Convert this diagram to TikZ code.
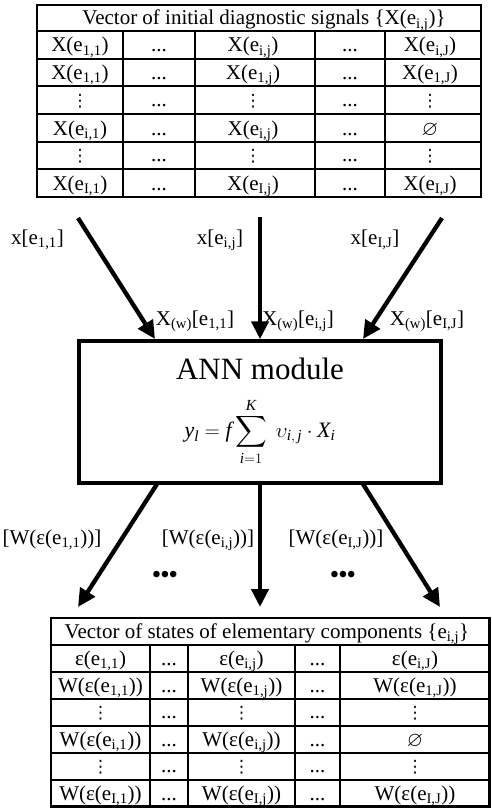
\documentclass[tikz,border=0pt]{standalone}
\usepackage{amsmath,amssymb}
\usepackage{fontspec}
\setmainfont{Liberation Serif}
\newfontfamily\djv{DejaVu Sans}
\usetikzlibrary{arrows.meta}
\newcommand{\sbs}[1]{\textsubscript{#1}}
\newcommand{\vd}{{\djv\fontsize{17}{17}\selectfont ⋮}}
\newcommand{\es}{$\varnothing$}
% top table row: name, baseline y, col1, col3, col5
\newcommand{\trow}[5]{%
  \node[cell] (#1a) at (80,#2) {#3};
  \node[cell] (#1b) at (159,#2) {...};
  \node[cell] (#1c) at (253,#2) {#4};
  \node[cell] (#1d) at (350,#2) {...};
  \node[cell] (#1e) at (430,#2) {#5};}
\newcommand{\brow}[5]{%
  \node[cell] (#1a) at (100.5,#2) {#3};
  \node[cell] (#1b) at (169,#2) {...};
  \node[cell] (#1c) at (241.5,#2) {#4};
  \node[cell] (#1d) at (317.5,#2) {...};
  \node[cell] (#1e) at (415,#2) {#5};}
\begin{document}
\begin{tikzpicture}[x=1pt,y=-1pt,
  cell/.style={font=\fontsize{21}{21}\selectfont, inner sep=0pt, anchor=base},
  lbl/.style={font=\fontsize{21}{21}\selectfont, inner sep=0pt, anchor=base},
  hl/.style={line width=1.8pt},
  vl/.style={line width=2.6pt},
  arr/.style={line width=4.3pt, -{Triangle[length=18pt,width=17pt]}},
  box/.style={draw, line width=3.5pt, inner sep=0pt, minimum width=362pt, minimum height=142pt},
  dots/.style={font=\fontsize{24}{24}\selectfont\bfseries, inner sep=0pt}]
\useasboundingbox (0,0) rectangle (491,808);
% ---------- top table ----------
\draw[vl] (37,5) rectangle (481,197);
\foreach \y in {31,58.7,86.3,114,141.7,169.3} \draw[hl] (37,\y) -- (481,\y);
\foreach \x in {123,195,315,385} \draw[vl] (\x,31) -- (\x,197);
\node[cell] (th) at (264,25) {Vector of initial diagnostic signals \{X(e\sbs{i,j})\}};
\trow{t1}{52}{X(e\sbs{1,1})}{X(e\sbs{i,j})}{X(e\sbs{i,J})}
\trow{t2}{79.5}{X(e\sbs{1,1})}{X(e\sbs{1,j})}{X(e\sbs{1,J})}
\trow{t3}{106}{\vd}{\vd}{\vd}
\trow{t4}{135}{X(e\sbs{i,1})}{X(e\sbs{i,j})}{\es}
\trow{t5}{161.5}{\vd}{\vd}{\vd}
\trow{t6}{190}{X(e\sbs{I,1})}{X(e\sbs{I,j})}{X(e\sbs{I,J})}
% ---------- ANN box ----------
\node[box] (ann) at (260,412) {};
\node[font=\fontsize{31}{31}\selectfont, inner sep=0pt] (annt) at (260,369) {ANN module};
\node[font=\fontsize{22}{22}\selectfont, inner sep=0pt] (form) at (260,432)
  {$\displaystyle \mathit{y}_{\mathit{l}} = \mathit{f}\sum_{\mathit{i}=1}^{\mathit{K}}\ \upsilon_{\mathit{i},\,\mathit{j}}\cdot \mathit{X}_{\mathit{i}}$};
% ---------- input arrows ----------
\coordinate (s1) at (78,218);
\coordinate (s2) at (260,217);
\coordinate (s3) at (442,218);
\coordinate (e1) at (155,339);
\coordinate (e3) at (363,339);
\draw[arr] (s1) -- (e1);
\draw[arr] (s2) -- (ann.north);
\draw[arr] (s3) -- (e3);
\node[lbl] (l1) at (37.5,244) {x[e\sbs{1,1}]};
\node[lbl] (l2) at (220,244) {x[e\sbs{i,j}]};
\node[lbl] (l3) at (375,244) {x[e\sbs{I,J}]};
\node[lbl] (w1) at (195,325) {X\sbs{(w)}[e\sbs{1,1}]};
\node[lbl] (w2) at (298,325) {X\sbs{(w)}[e\sbs{i,j}]};
\node[lbl] (w3) at (427,325) {X\sbs{(w)}[e\sbs{I,J}]};
% ---------- output arrows ----------
\coordinate (o1) at (157,484);
\coordinate (o3) at (363,484);
\coordinate (f1) at (78,607);
\coordinate (f2) at (260,607);
\coordinate (f3) at (440,607);
\draw[arr] (o1) -- (f1);
\draw[arr] (ann.south) -- (f2);
\draw[arr] (o3) -- (f3);
\node[lbl] (b1) at (52,544) {[W(ε(e\sbs{1,1}))]};
\node[lbl] (b2) at (208,544) {[W(ε(e\sbs{i,j}))]};
\node[lbl] (b3) at (336,544) {[W(ε(e\sbs{I,J}))]};
\node[dots] (d1) at (165,577) {\textbullet\textbullet\textbullet};
\node[dots] (d2) at (343,577) {\textbullet\textbullet\textbullet};
% ---------- bottom table ----------
\draw[vl] (51,618) rectangle (489.7,806.7);
\foreach \y in {645,672,699,726,753,780} \draw[hl] (51,\y) -- (489.7,\y);
\foreach \x in {150,188,295,340} \draw[vl] (\x,645) -- (\x,806.7);
\node[cell] (bh) at (267,638) {Vector of states of elementary components \{e\sbs{i,j}\}};
\brow{u1}{665}{ε(e\sbs{1,1})}{ε(e\sbs{i,j})}{ε(e\sbs{i,J})}
\brow{u2}{692}{W(ε(e\sbs{1,1}))}{W(ε(e\sbs{1,j}))}{W(ε(e\sbs{1,J}))}
\brow{u3}{718}{\vd}{\vd}{\vd}
\brow{u4}{746}{W(ε(e\sbs{i,1}))}{W(ε(e\sbs{i,j}))}{\es}
\brow{u5}{772}{\vd}{\vd}{\vd}
\brow{u6}{800}{W(ε(e\sbs{I,1}))}{W(ε(e\sbs{I,j}))}{W(ε(e\sbs{I,J}))}
\end{tikzpicture}
\end{document}
